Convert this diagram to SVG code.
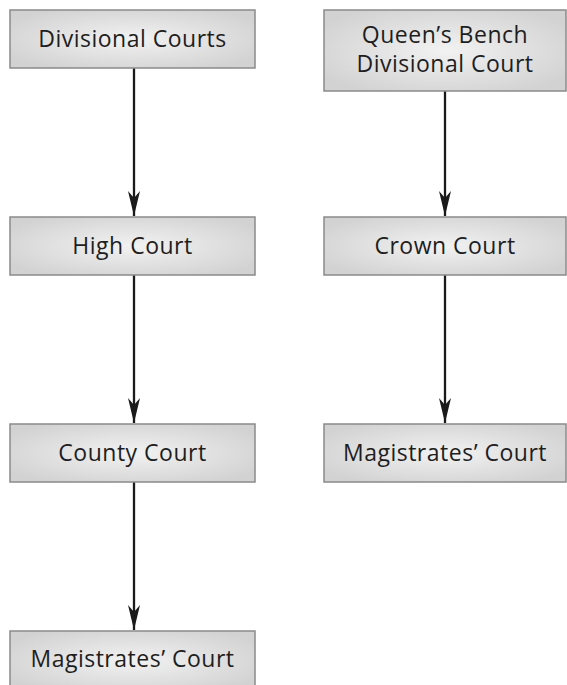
<svg xmlns="http://www.w3.org/2000/svg" width="567" height="685" viewBox="0 0 567 685">
<defs>
<radialGradient id="g" cx="50%" cy="50%" r="60%">
<stop offset="0" stop-color="#f2f2f2"/>
<stop offset="1" stop-color="#d2d2d2"/>
</radialGradient>
<marker id="ah" markerUnits="userSpaceOnUse" markerWidth="14" markerHeight="26" viewBox="-7 -25 14 26" refX="0" refY="0" orient="auto-start-reverse" overflow="visible">
<path d="M0,0 L-6,-25 L0,-18 L6,-25 Z" fill="#1a1a1a" transform="rotate(-90)"/>
</marker>
<style>
.box rect{fill:url(#g);stroke:#8a8a8a;stroke-width:1.5}
.box text{font-family:"Open Sans","Noto Sans",sans-serif;font-size:23px;letter-spacing:0.5px;fill:#1e1e1e;text-anchor:middle}
.conn line{stroke:#1a1a1a;stroke-width:2.3;marker-end:url(#ah)}
</style>
</defs>
<rect width="567" height="685" fill="#fff"/>
<g class="conn">
<line x1="134" y1="68" x2="134" y2="216"/>
<line x1="134" y1="275" x2="134" y2="423"/>
<line x1="134" y1="482" x2="134" y2="630"/>
<line x1="445" y1="91" x2="445" y2="216"/>
<line x1="445" y1="275" x2="445" y2="423"/>
</g>
<g id="divisional-courts" class="box"><rect x="10" y="10" width="245" height="58"/><text x="132.5" y="47">Divisional Courts</text></g>
<g id="high-court" class="box"><rect x="10" y="217" width="245" height="58"/><text x="132.5" y="254">High Court</text></g>
<g id="county-court" class="box"><rect x="10" y="424" width="245" height="58"/><text x="132.5" y="461">County Court</text></g>
<g id="magistrates-court-left" class="box"><rect x="10" y="631" width="245" height="60"/><text x="132.5" y="667">Magistrates’ Court</text></g>
<g id="queens-bench" class="box"><rect x="324" y="10" width="242" height="81"/><text x="445" y="43">Queen’s Bench</text><text x="445" y="72">Divisional Court</text></g>
<g id="crown-court" class="box"><rect x="324" y="217" width="242" height="58"/><text x="445" y="254">Crown Court</text></g>
<g id="magistrates-court-right" class="box"><rect x="324" y="424" width="242" height="58"/><text x="445" y="461">Magistrates’ Court</text></g>
</svg>
